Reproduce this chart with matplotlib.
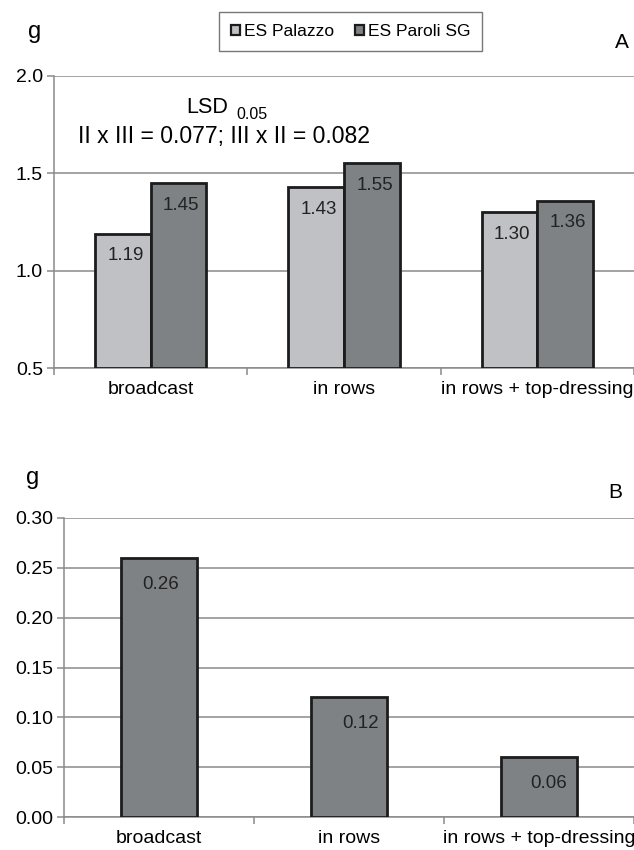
import matplotlib.pyplot as plt
import numpy as np
from matplotlib.patches import Patch

plt.rcParams['font.family'] = ['Liberation Sans', 'DejaVu Sans']

# seed weight per plant, two cultivars (panel A) and loss (panel B)
methods = ['broadcast', 'in rows', 'in rows + top-dressing']
palazzo = [1.19, 1.43, 1.30]
paroli = [1.45, 1.55, 1.36]
loss = [0.26, 0.12, 0.06]

light = '#c0c1c4'
dark = '#7e8285'
edge = '#1c1c1c'
grid = '#8a8a8a'

W, H = 634, 850
fig = plt.figure(figsize=(W / 100, H / 100), dpi=100)


def fx(px):
    return px / W


def fy(py):
    return 1 - py / H


def style_axes(ax, ymin, ymax, yticks, fmt):
    ax.set_xlim(-0.5, 2.5)
    ax.set_ylim(ymin, ymax)
    ax.set_yticks(yticks)
    ax.set_yticklabels([fmt.format(t) for t in yticks], fontsize=14)
    ax.yaxis.grid(True, color=grid, linewidth=1.1)
    ax.set_axisbelow(True)
    for s in ['top', 'right']:
        ax.spines[s].set_visible(False)
    for s in ['left', 'bottom']:
        ax.spines[s].set_color(grid)
        ax.spines[s].set_linewidth(1.1)
    # boundary ticks between categories, labels centred under groups
    ax.set_xticks([-0.5, 0.5, 1.5, 2.5])
    ax.set_xticklabels([])
    ax.set_xticks(range(3), minor=True)
    ax.set_xticklabels(methods, minor=True, fontsize=14)
    ax.tick_params(axis='x', which='major', length=5, color=grid, width=1.1)
    ax.tick_params(axis='x', which='minor', length=0, pad=9)
    ax.tick_params(axis='y', length=5, color=grid, width=1.1, pad=3)


# ---- panel A ----
axA = fig.add_axes([fx(54), fy(368.3), fx(634 - 54) + 0.01, (368.3 - 75.7) / H])
x = np.arange(3)
bw = 0.288
base = 0.5
axA.bar(x - bw / 2, np.array(palazzo) - base, bw, bottom=base, color=light,
        edgecolor=edge, linewidth=2.0, zorder=3)
axA.bar(x + bw / 2, np.array(paroli) - base, bw, bottom=base, color=dark,
        edgecolor=edge, linewidth=2.0, zorder=3)
style_axes(axA, 0.5, 2.0, [0.5, 1.0, 1.5, 2.0], '{:.1f}')
axA.set_xlim(-0.5, 2.5 + 0.01 * W / (634 - 54) * 3)

for xs, vals in [(x - bw / 2, palazzo), (x + bw / 2, paroli)]:
    for xi, v in zip(xs, vals):
        axA.annotate(f'{v:.2f}', (xi, v), xytext=(2, -16), textcoords='offset points',
                     ha='center', va='center', fontsize=13.5, color='#222222', zorder=4)

fig.text(fx(186.7), fy(113.3), 'LSD', fontsize=15.5, va='baseline', ha='left')
fig.text(fx(236.7), fy(119.3), '0.05', fontsize=11.5, va='baseline', ha='left')
fig.text(fx(78.3), fy(142.7), 'II x III = 0.077; III x II = 0.082', fontsize=16.6,
         va='baseline', ha='left')

fig.text(fx(35), fy(38), 'g', fontsize=17, ha='center', va='baseline')
fig.text(fx(622), fy(48), 'A', fontsize=15, ha='center', va='baseline')

handles = [Patch(facecolor=light, edgecolor=edge, linewidth=1.6, label='ES Palazzo'),
           Patch(facecolor=dark, edgecolor=edge, linewidth=1.6, label='ES Paroli SG')]
fig.legend(handles=handles, loc='center', bbox_to_anchor=(fx(350.5), fy(31.7)),
           ncol=2, fontsize=12.5, frameon=True, fancybox=False, edgecolor='#555555',
           handlelength=0.55, handleheight=0.55, handletextpad=0.2, columnspacing=1.2,
           borderpad=0.7)

# ---- panel B ----
axB = fig.add_axes([fx(64.3), fy(817.3), fx(634 - 64.3) + 0.01, (817.3 - 517.7) / H])
axB.bar(x, loss, 0.40, color=dark, edgecolor=edge, linewidth=2.0, zorder=3)
style_axes(axB, 0.0, 0.30, [0.0, 0.05, 0.10, 0.15, 0.20, 0.25, 0.30], '{:.2f}')
axB.set_xlim(-0.5, 2.5 + 0.01 * W / (634 - 64.3) * 3)

label_dx = [1, 8, 7]
for xi, v, dx in zip(x, loss, label_dx):
    axB.annotate(f'{v:.2f}', (xi, v), xytext=(dx, -19), textcoords='offset points',
                 ha='center', va='center', fontsize=13.5, color='#222222', zorder=4)

fig.text(fx(33), fy(484), 'g', fontsize=17, ha='center', va='baseline')
fig.text(fx(615.6), fy(498), 'B', fontsize=15, ha='center', va='baseline')

fig.savefig('out.png', dpi=100)
